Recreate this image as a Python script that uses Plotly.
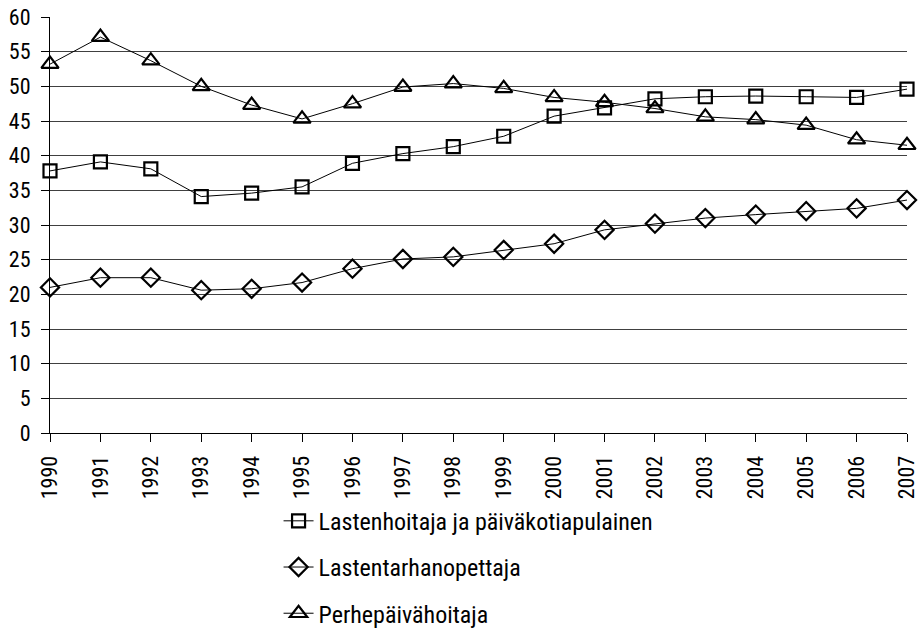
import plotly.graph_objects as go

years = list(range(1990, 2008))

lastenhoitaja = [37.8, 39.1, 38.1, 34.1, 34.6, 35.5, 38.9, 40.3, 41.3, 42.8,
                 45.7, 46.9, 48.2, 48.5, 48.6, 48.5, 48.4, 49.6]
lastentarhanopettaja = [21.0, 22.4, 22.4, 20.6, 20.8, 21.7, 23.7, 25.1, 25.4, 26.4,
                        27.3, 29.3, 30.2, 31.0, 31.5, 32.0, 32.4, 33.6]
perhepaivahoitaja = [53.2, 57.1, 53.7, 50.0, 47.3, 45.3, 47.5, 49.9, 50.4, 49.7,
                     48.4, 47.7, 46.8, 45.6, 45.2, 44.4, 42.3, 41.5]

series = [
    ("Lastenhoitaja ja päiväkotiapulainen", lastenhoitaja, "square-open", 13),
    ("Lastentarhanopettaja", lastentarhanopettaja, "diamond-open", 14),
    ("Perhepäivähoitaja", perhepaivahoitaja, "triangle-up-open", 15),
]

font_family = "Roboto Condensed, Liberation Sans Narrow, sans-serif"

fig = go.Figure()
for i, (name, vals, symbol, size) in enumerate(series):
    fig.add_trace(go.Scatter(
        x=years,
        y=vals,
        name=name,
        mode="lines+markers",
        line={"color": "black", "width": 1},
        marker={"symbol": symbol, "size": size, "color": "black", "line": {"width": 2.2, "color": "black"}},
        cliponaxis=False,
        legendgroup=f"g{i}",
    ))

fig.update_layout(
    width=921,
    height=631,
    margin={"l": 50, "r": 14, "t": 17, "b": 198, "autoexpand": False},
    plot_bgcolor="white",
    paper_bgcolor="white",
    font={"family": font_family, "color": "black", "size": 22},
    showlegend=True,
    legend={
        "x": 0.2667,
        "y": -0.158,
        "xanchor": "left",
        "yanchor": "top",
        "font": {"size": 24},
        "tracegroupgap": 12,
        "bgcolor": "rgba(0,0,0,0)",
    },
)

fig.update_xaxes(
    range=[1990, 2007],
    tickmode="array",
    tickvals=years,
    ticktext=[str(y) for y in years],
    tickangle=-90,
    showgrid=False,
    showline=True,
    linecolor="black",
    linewidth=1,
    ticks="outside",
    ticklen=8,
    tickcolor="black",
    ticklabelstandoff=5,
    zeroline=False,
    automargin=False,
)
fig.update_yaxes(
    range=[0, 60],
    dtick=5,
    showgrid=True,
    gridcolor="#404040",
    gridwidth=1,
    showline=True,
    linecolor="black",
    linewidth=1,
    ticks="outside",
    ticklen=8,
    tickcolor="black",
    ticklabelstandoff=6,
    zeroline=False,
    automargin=False,
)

# drop the default 8px body margin so the figure sits at the page corner
fig.write_html(
    "out.html",
    config={"displayModeBar": False},
    post_script="document.body.style.margin = '0';",
)
